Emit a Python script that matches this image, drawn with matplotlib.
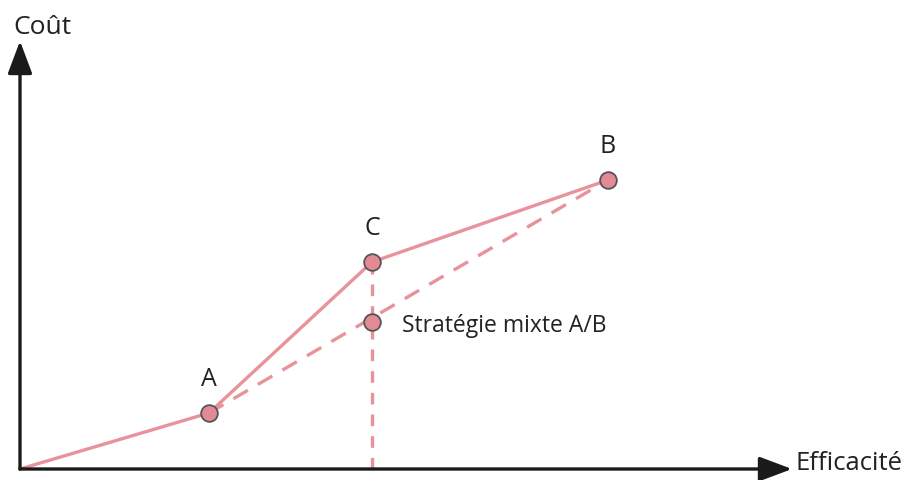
import numpy as np
import matplotlib
matplotlib.use('Agg')
import matplotlib.pyplot as plt

# data (arbitrary units: efficacite, cout)
labels = ['A', 'C', 'B']
eff = [189, 352, 588]
cout = [56, 207, 289]
mix_eff = 352
mix_cout = 147

line_col = '#e8939b'
pt_col = '#e48a94'

plt.rcParams['font.family'] = ['Open Sans', 'DejaVu Sans']

fig = plt.figure(figsize=(9.24, 4.81), dpi=100)
ax = fig.add_axes([0, 0, 1, 1])
ax.set_xlim(-20, 904)
ax.set_ylim(-11, 470)
ax.axis('off')

# axes with arrows
arrow = dict(arrowstyle='-|>,head_length=2.0,head_width=0.75', color='#1a1a1a', lw=2.4,
             shrinkA=0, shrinkB=0)
ax.annotate('', xy=(772, 0), xytext=(0, 0), arrowprops=arrow)
ax.annotate('', xy=(0, 428), xytext=(0, 0), arrowprops=arrow)
ax.text(-7, 442, 'Coût', fontsize=19, color='#222222', va='center', ha='left')
ax.text(775, 6, 'Efficacité', fontsize=18.5, color='#222222', va='center', ha='left')

# frontier
ax.plot([0] + eff, [0] + cout, color=line_col, lw=2.4, zorder=2)
# mixed strategy A/B
ax.plot([eff[0], eff[2]], [cout[0], cout[2]], color=line_col, lw=2.4, ls=(0, (5, 3.5)), zorder=1)
ax.plot([eff[1], eff[1]], [0, cout[1]], color=line_col, lw=2.4, ls=(0, (3.5, 3)), zorder=1)

ax.plot(eff, cout, 'o', ms=12, mfc=pt_col, mec='#555555', mew=1.3, zorder=3)
ax.plot([mix_eff], [mix_cout], 'o', ms=12, mfc=pt_col, mec='#555555', mew=1.3, zorder=3)

for l, x, y in zip(labels, eff, cout):
    ax.text(x, y + 22, l, fontsize=18, color='#222222', ha='center', va='bottom')
ax.text(mix_eff + 30, mix_cout - 3, 'Stratégie mixte A/B', fontsize=16.5, color='#222222',
        ha='left', va='center')

fig.savefig('out.png', dpi=100)
